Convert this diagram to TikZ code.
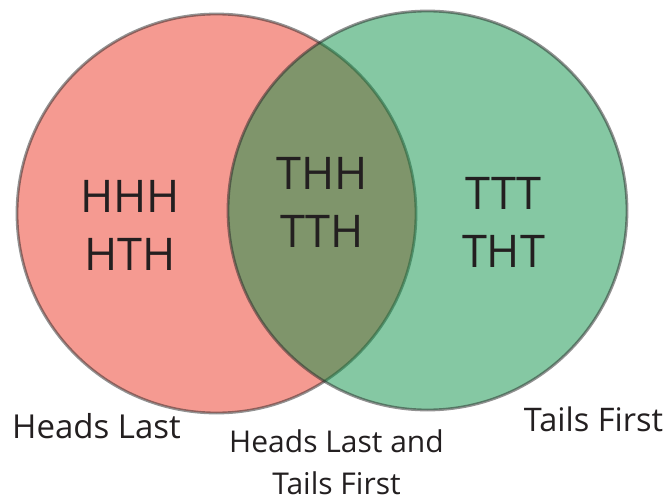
\documentclass[tikz,border=0pt]{standalone}
\usepackage{fontspec}
\setmainfont{Open Sans}
\usepackage{tikz}

\definecolor{headsred}{RGB}{235,53,35}
\definecolor{tailsgreen}{RGB}{11,145,71}
\definecolor{ink}{RGB}{35,31,32}

\begin{document}
\begin{tikzpicture}[x=1pt, y=-1pt,
    set/.style={circle, draw=black!85, line width=2.8pt, opacity=0.5, minimum size=399pt, inner sep=0pt},
    words/.style={text=ink, inner sep=0pt, align=center}]
  \useasboundingbox (0,0) rectangle (665,498);

    \node[set, fill=headsred] (heads) at (216.5,213.5) {};
    \node[set, fill=tailsgreen] (tails) at (427.5,210.5) {};

    \foreach \pos/\name/\txt in {{(130,225.5)/onlyheads/HHH\\HTH}, {(322,202)/both/THH\\TTH}, {(503.5,222.5)/onlytails/TTT\\THT}}
        \node[words, font=\fontsize{45}{58}\selectfont] (\name) at \pos {\txt};

    \node[words, font=\fontsize{33}{40}\selectfont] (headslbl) at (96.5,426.5) {Heads Last};
    \node[words, font=\fontsize{32.5}{40}\selectfont] (tailslbl) at (593.5,419) {Tails First};
    \node[words, font=\fontsize{30}{42}\selectfont] (bothlbl) at (336.5,462) {Heads Last and\\Tails First};
\end{tikzpicture}
\end{document}
